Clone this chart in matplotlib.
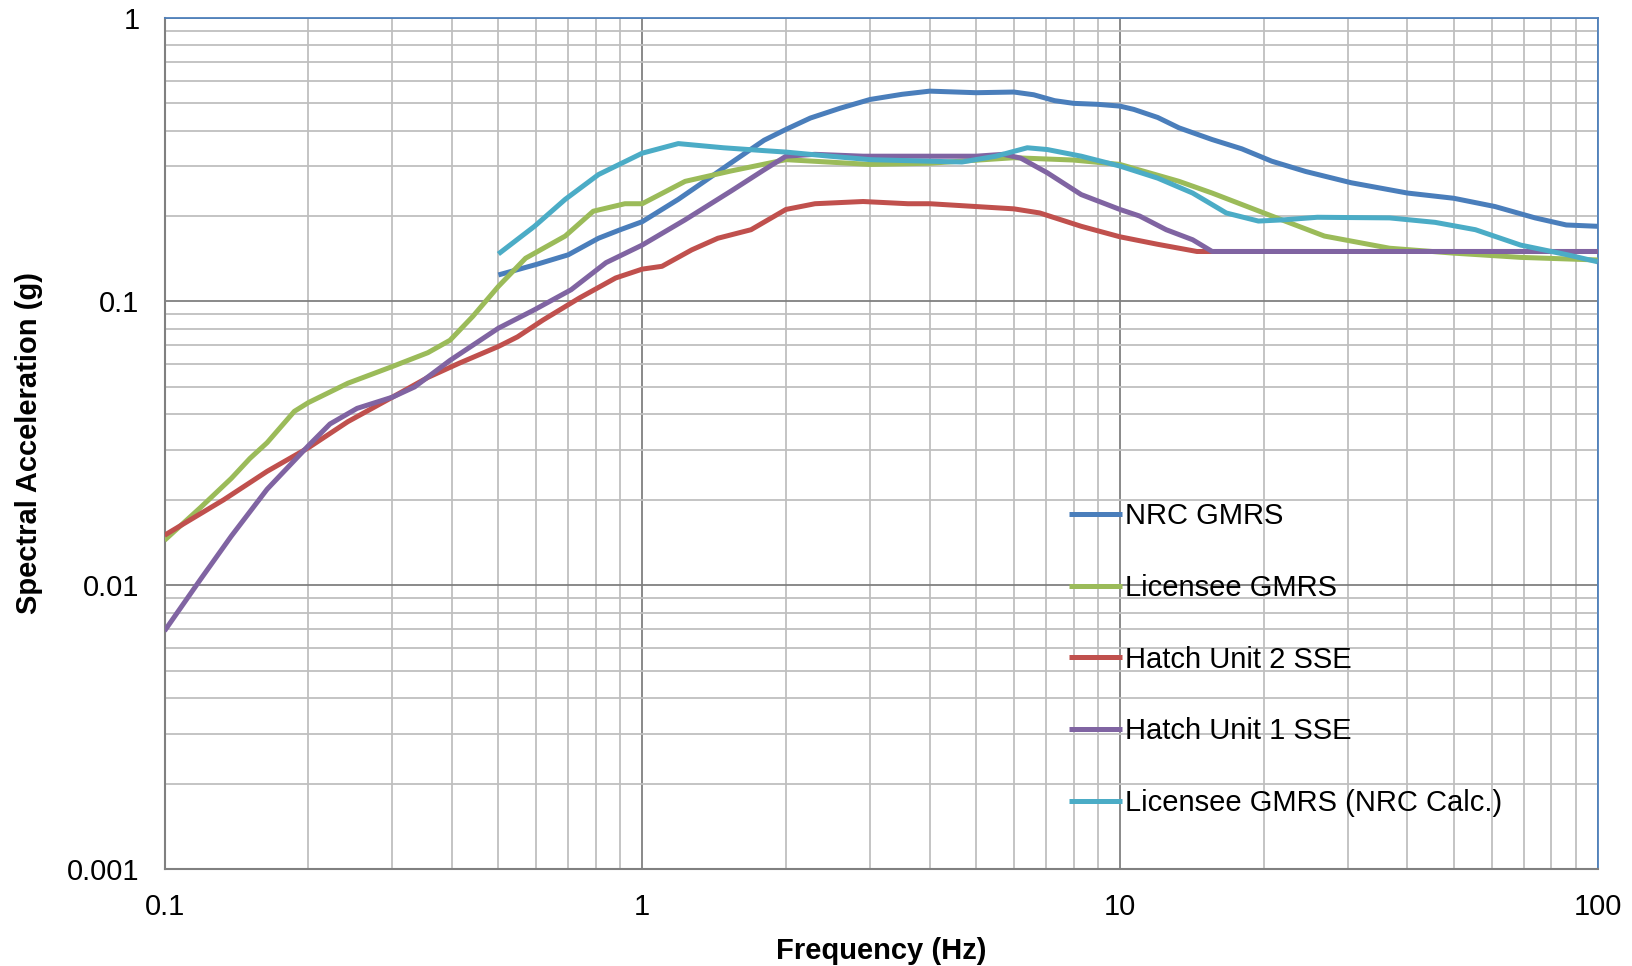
import matplotlib
matplotlib.use("Agg")
import matplotlib.pyplot as plt
from matplotlib.ticker import LogLocator, NullFormatter, FixedLocator, FixedFormatter

# ---------------- data ----------------
nrc_f = [0.5, 0.6, 0.7, 0.81, 0.9, 1.0, 1.19, 1.35, 1.535, 1.8, 2.0, 2.25, 2.6, 3.0, 3.5, 4.0,
         5.0, 6.0, 6.6, 7.3, 8.0, 9.0, 10, 10.7, 12, 13.3, 15.6, 18, 20.8, 24.5, 30.5, 40, 50,
         61, 74, 86, 100]
nrc_sa = [0.124, 0.135, 0.146, 0.167, 0.179, 0.191, 0.229, 0.265, 0.308, 0.37, 0.404, 0.443,
          0.48, 0.515, 0.537, 0.551, 0.544, 0.547, 0.535, 0.51, 0.499, 0.495, 0.488, 0.475,
          0.445, 0.409, 0.372, 0.345, 0.312, 0.287, 0.262, 0.241, 0.231, 0.216, 0.197, 0.186,
          0.184]

lic_f = [0.1, 0.119, 0.138, 0.151, 0.164, 0.187, 0.2, 0.242, 0.3, 0.356, 0.396, 0.442, 0.5,
         0.57, 0.69, 0.79, 0.92, 1.0, 1.23, 1.53, 2.0, 3.0, 4.0, 6.0, 8.0, 10, 13.3, 15.6,
         20.8, 26.8, 36.7, 50, 69, 100]
lic_sa = [0.0144, 0.0188, 0.0238, 0.028, 0.0318, 0.041, 0.044, 0.0515, 0.059, 0.066, 0.073,
          0.0886, 0.113, 0.142, 0.17, 0.208, 0.221, 0.221, 0.265, 0.288, 0.316, 0.304, 0.307,
          0.321, 0.315, 0.304, 0.265, 0.241, 0.2, 0.17, 0.154, 0.148, 0.143, 0.140]

h2_f = [0.1, 0.133, 0.164, 0.2, 0.242, 0.3, 0.356, 0.414, 0.5, 0.548, 0.62, 0.74, 0.88, 1.0,
        1.1, 1.27, 1.44, 1.69, 2.0, 2.3, 2.9, 3.6, 4.0, 5.0, 6.0, 6.8, 8.3, 10, 12, 14.5, 20,
        30, 50, 100]
h2_sa = [0.015, 0.020, 0.0252, 0.0305, 0.0377, 0.046, 0.054, 0.0606, 0.0694, 0.075, 0.086,
         0.103, 0.121, 0.13, 0.133, 0.152, 0.167, 0.179, 0.211, 0.221, 0.225, 0.221, 0.221,
         0.216, 0.212, 0.205, 0.184, 0.169, 0.159, 0.150, 0.150, 0.150, 0.150, 0.150]

h1_f = [0.1, 0.119, 0.138, 0.164, 0.2, 0.222, 0.253, 0.3, 0.334, 0.396, 0.5, 0.595, 0.71,
        0.84, 1.0, 1.23, 1.535, 1.8, 2.0, 2.3, 2.9, 4.0, 5.0, 5.7, 6.2, 7.05, 8.3, 10, 11,
        12.5, 14.2, 15.6, 20, 50, 100]
h1_sa = [0.0069, 0.0105, 0.0149, 0.0218, 0.031, 0.037, 0.042, 0.046, 0.050, 0.062, 0.0805,
         0.0935, 0.11, 0.137, 0.158, 0.194, 0.245, 0.291, 0.325, 0.33, 0.325, 0.325, 0.325,
         0.33, 0.32, 0.284, 0.238, 0.211, 0.2, 0.179, 0.165, 0.150, 0.150, 0.150, 0.150]

calc_f = [0.5, 0.595, 0.69, 0.81, 1.0, 1.19, 1.35, 1.48, 1.8, 2.0, 2.47, 3.0, 4.0, 4.67, 5.5,
          6.4, 7.05, 8.3, 10, 12, 14.2, 16.7, 19.5, 22.1, 25.9, 36.7, 45.7, 55.5, 69, 86.5, 100]
calc_sa = [0.147, 0.184, 0.229, 0.28, 0.333, 0.36, 0.353, 0.348, 0.34, 0.336, 0.325, 0.316,
           0.312, 0.31, 0.325, 0.348, 0.343, 0.325, 0.3, 0.272, 0.241, 0.205, 0.192, 0.194,
           0.198, 0.197, 0.19, 0.179, 0.158, 0.146, 0.138]

series_labels = ["NRC GMRS", "Licensee GMRS", "Hatch Unit 2 SSE", "Hatch Unit 1 SSE",
                 "Licensee GMRS (NRC Calc.)"]
x_ticks = [0.1, 1, 10, 100]
x_tick_labels = ["0.1", "1", "10", "100"]
y_ticks = [0.001, 0.01, 0.1, 1]
y_tick_labels = ["0.001", "0.01", "0.1", "1"]

# ---------------- plot ----------------
plt.rcParams['font.family'] = ['Liberation Sans', 'DejaVu Sans']

fig = plt.figure(figsize=(16.32, 9.66), dpi=100)
ax = fig.add_axes([0.1008, 0.1004, 0.8781, 0.8813])

colors = ["#4A7EBB", "#9BBB59", "#C0504D", "#8064A2", "#4BACC6"]
data = [(nrc_f, nrc_sa), (lic_f, lic_sa), (h2_f, h2_sa), (h1_f, h1_sa), (calc_f, calc_sa)]
for (f, sa), c, lab in zip(data, colors, series_labels):
    ax.plot(f, sa, color=c, lw=3.6, label=lab, solid_joinstyle='round',
            solid_capstyle='butt', zorder=3)

ax.set_xscale('log')
ax.set_yscale('log')
ax.set_xlim(0.1, 100)
ax.set_ylim(0.001, 1)

ax.xaxis.set_major_locator(FixedLocator(x_ticks))
ax.xaxis.set_major_formatter(FixedFormatter(x_tick_labels))
ax.yaxis.set_major_locator(FixedLocator(y_ticks))
ax.yaxis.set_major_formatter(FixedFormatter(y_tick_labels))
ax.xaxis.set_minor_locator(LogLocator(base=10, subs=range(2, 10), numticks=20))
ax.yaxis.set_minor_locator(LogLocator(base=10, subs=range(2, 10), numticks=20))
ax.xaxis.set_minor_formatter(NullFormatter())
ax.yaxis.set_minor_formatter(NullFormatter())

ax.grid(which='major', color='#808080', lw=1.3, zorder=1)
ax.grid(which='minor', color='#BFBFBF', lw=1.3, zorder=1)
ax.set_axisbelow(True)

ax.tick_params(which='both', length=0)
ax.tick_params(axis='x', labelsize=21, pad=17)
ax.tick_params(axis='y', labelsize=21, pad=18)

for s in ['top', 'right']:
    ax.spines[s].set_color('#4F81BD')
    ax.spines[s].set_linewidth(1.3)
for s in ['left', 'bottom']:
    ax.spines[s].set_color('#808080')
    ax.spines[s].set_linewidth(1.5)

ax.set_xlabel("Frequency (Hz)", fontsize=21, fontweight='bold', labelpad=12)
ax.set_ylabel("Spectral Acceleration (g)", fontsize=21, fontweight='bold', labelpad=17)

leg = ax.legend(loc='upper left', bbox_to_anchor=(0.6312, 0.431), frameon=False,
                fontsize=21, handlelength=1.8, handletextpad=0.12, labelspacing=1.5,
                borderpad=0, borderaxespad=0)
for line in leg.get_lines():
    line.set_linewidth(3.6)

fig.savefig("out.png", dpi=100)
